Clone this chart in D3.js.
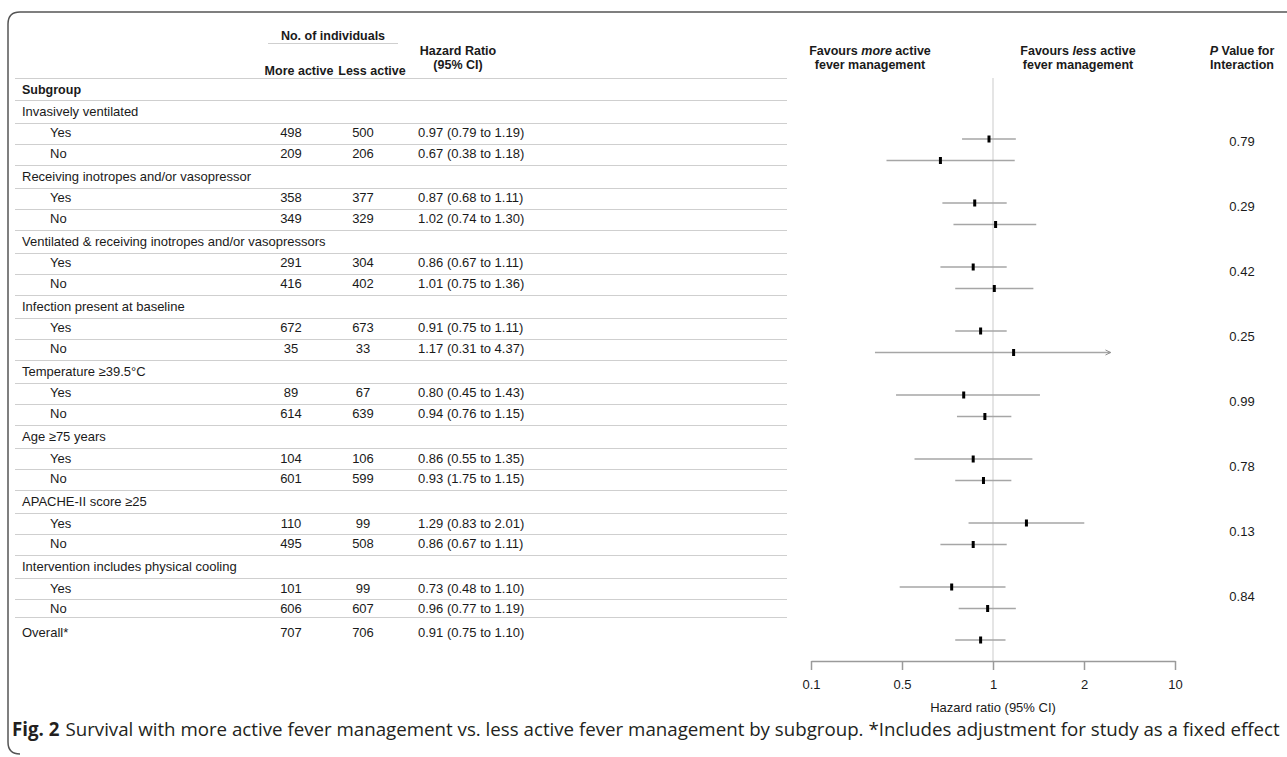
<!DOCTYPE html>
<html>
<head>
<meta charset="utf-8">
<script src="https://cdn.jsdelivr.net/npm/d3@7"></script>
<style>
  body { margin: 0; background: #fff; }
  svg { font-family: "Liberation Sans", Arial, sans-serif; }
  .tbl { font-size: 13px; fill: #1a1a1a; }
  .hdr { font-size: 12.5px; font-weight: bold; fill: #1a1a1a; }
  .rule { stroke: #cfcfcf; stroke-width: 1; }
  .ci { stroke: #a6a6a6; stroke-width: 1.6; fill: none; }
  .axis path, .axis line { stroke: #9a9a9a; stroke-width: 1.5; }
  .axis text { font-size: 13px; fill: #1a1a1a; font-family: "Liberation Sans", Arial, sans-serif; }
</style>
</head>
<body>
<script>
var width = 1287;
var height = 757;

// data
var groups = ["Invasively ventilated", "Receiving inotropes and/or vasopressor",
  "Ventilated & receiving inotropes and/or vasopressors", "Infection present at baseline",
  "Temperature \u226539.5\u00b0C", "Age \u226575 years", "APACHE-II score \u226525",
  "Intervention includes physical cooling"];
var levels = ["Yes", "No"];
var moreActive = [498, 209, 358, 349, 291, 416, 672, 35, 89, 614, 104, 601, 110, 495, 101, 606];
var lessActive = [500, 206, 377, 329, 304, 402, 673, 33, 67, 639, 106, 599, 99, 508, 99, 607];
var hr     = [0.97, 0.67, 0.87, 1.02, 0.86, 1.01, 0.91, 1.17, 0.80, 0.94, 0.86, 0.93, 1.29, 0.86, 0.73, 0.96];
var ciLow  = [0.79, 0.38, 0.68, 0.74, 0.67, 0.75, 0.75, 0.31, 0.45, 0.76, 0.55, 0.75, 0.83, 0.67, 0.48, 0.77];
var ciHigh = [1.19, 1.18, 1.11, 1.39, 1.11, 1.36, 1.11, 4.37, 1.43, 1.15, 1.35, 1.15, 2.01, 1.11, 1.10, 1.19];
var hrLabels = ["0.97 (0.79 to 1.19)", "0.67 (0.38 to 1.18)", "0.87 (0.68 to 1.11)", "1.02 (0.74 to 1.30)",
  "0.86 (0.67 to 1.11)", "1.01 (0.75 to 1.36)", "0.91 (0.75 to 1.11)", "1.17 (0.31 to 4.37)",
  "0.80 (0.45 to 1.43)", "0.94 (0.76 to 1.15)", "0.86 (0.55 to 1.35)", "0.93 (1.75 to 1.15)",
  "1.29 (0.83 to 2.01)", "0.86 (0.67 to 1.11)", "0.73 (0.48 to 1.10)", "0.96 (0.77 to 1.19)"];
var pValues = ["0.79", "0.29", "0.42", "0.25", "0.99", "0.78", "0.13", "0.84"];
var overall = {label: "Overall*", more: 707, less: 706, hr: 0.91, lo: 0.75, hi: 1.10, text: "0.91 (0.75 to 1.10)"};
var ticks = [0.1, 0.5, 1, 2, 10];
var clipMax = 3.2; // longer intervals get an arrow

var svg = d3.select("body").append("svg")
  .attr("width", width)
  .attr("height", height);

// frame
svg.append("path")
  .attr("d", "M" + width + ",12 H20 Q8,12 8,24 V742 Q8,754 20,754")
  .attr("fill", "none")
  .attr("stroke", "#555")
  .attr("stroke-width", 1.5);

// ---------- table ----------
var col = {label: 22, indent: 50, more: 291, less: 363, hr: 418};
var tableTop = d3.scaleLinear().domain([0, 8]).range([99, 619.8]);
var lineL = 15, lineR = 787;

var head = svg.append("g");
head.append("text").attr("class", "hdr").attr("x", 333).attr("y", 39.5)
  .attr("text-anchor", "middle").text("No. of individuals");
head.append("line").attr("class", "rule").attr("x1", 268).attr("x2", 398).attr("y1", 43.5).attr("y2", 43.5);
head.append("text").attr("class", "hdr").attr("x", 299).attr("y", 74.5)
  .attr("text-anchor", "middle").text("More active");
head.append("text").attr("class", "hdr").attr("x", 372).attr("y", 74.5)
  .attr("text-anchor", "middle").text("Less active");
head.append("text").attr("class", "hdr").attr("x", 458).attr("y", 55)
  .attr("text-anchor", "middle").text("Hazard Ratio");
head.append("text").attr("class", "hdr").attr("x", 458).attr("y", 69)
  .attr("text-anchor", "middle").text("(95% CI)");
head.append("text").attr("class", "hdr").attr("x", col.label).attr("y", 93.5).text("Subgroup");

var rules = [77.5, 99.5];
var tbl = svg.append("g");

groups.forEach(function(g, i){
  var top = tableTop(i);
  tbl.append("text").attr("class", "tbl").attr("x", col.label).attr("y", top + 16.5).text(g);
  rules.push(top + 23.5, top + 44.5, top + 65.5);
  levels.forEach(function(lv, j){
    var k = i * 2 + j;
    var y = top + 38 + j * 20.5;
    tbl.append("text").attr("class", "tbl").attr("x", col.indent).attr("y", y).text(lv);
    tbl.append("text").attr("class", "tbl").attr("x", col.more).attr("y", y)
      .attr("text-anchor", "middle").text(moreActive[k]);
    tbl.append("text").attr("class", "tbl").attr("x", col.less).attr("y", y)
      .attr("text-anchor", "middle").text(lessActive[k]);
    tbl.append("text").attr("class", "tbl").attr("x", col.hr).attr("y", y).text(hrLabels[k]);
  });
});
rules.pop();
rules.push(tableTop(8) - 3);

var oy = tableTop(8) + 17.5;
tbl.append("text").attr("class", "tbl").attr("x", col.label).attr("y", oy).text(overall.label);
tbl.append("text").attr("class", "tbl").attr("x", col.more).attr("y", oy).attr("text-anchor", "middle").text(overall.more);
tbl.append("text").attr("class", "tbl").attr("x", col.less).attr("y", oy).attr("text-anchor", "middle").text(overall.less);
tbl.append("text").attr("class", "tbl").attr("x", col.hr).attr("y", oy).text(overall.text);

svg.append("g").selectAll("line")
  .data(rules)
  .enter()
  .append("line")
  .attr("class", "rule")
  .attr("x1", lineL).attr("x2", lineR)
  .attr("y1", d => Math.round(d) + 0.5).attr("y2", d => Math.round(d) + 0.5);

// ---------- forest plot ----------
var x = d3.scaleLog()
  .domain(ticks)
  .range(ticks.map((d, i) => 811 + i * 91));

var plotY = d3.scaleLinear().domain([0, 7]).range([139, 587]);
var axisY = 661;

svg.append("line")
  .attr("x1", x(1)).attr("x2", x(1))
  .attr("y1", 78).attr("y2", axisY)
  .attr("stroke", "#d4d4d4").attr("stroke-width", 1.2);

svg.append("defs").append("marker")
  .attr("id", "arrow")
  .attr("viewBox", "0 0 10 10")
  .attr("refX", 9).attr("refY", 5)
  .attr("markerWidth", 4).attr("markerHeight", 4)
  .attr("orient", "auto")
  .append("path")
  .attr("d", "M1,1 L9,5 L1,9")
  .attr("fill", "none").attr("stroke", "#8a8a8a").attr("stroke-width", 1.5);

var rows = hr.map(function(d, k){
  return {hr: d, lo: ciLow[k], hi: ciHigh[k], y: plotY(Math.floor(k / 2)) + (k % 2) * 21.5};
});
rows.push({hr: overall.hr, lo: overall.lo, hi: overall.hi, y: plotY(7) + 53});

var forest = svg.append("g");
forest.selectAll("line.ci")
  .data(rows)
  .enter()
  .append("line")
  .attr("class", "ci")
  .attr("x1", d => x(d.lo))
  .attr("x2", d => x(Math.min(d.hi, clipMax)))
  .attr("y1", d => d.y).attr("y2", d => d.y)
  .attr("marker-end", d => d.hi > clipMax ? "url(#arrow)" : null);

forest.selectAll("rect")
  .data(rows)
  .enter()
  .append("rect")
  .attr("x", d => x(d.hr) - 1.5)
  .attr("y", d => d.y - 3.5)
  .attr("width", 3)
  .attr("height", 7)
  .attr("fill", "#000");

// p values sit level with the table groups
svg.append("g").selectAll("text")
  .data(pValues)
  .enter()
  .append("text")
  .attr("class", "tbl")
  .attr("x", 1242)
  .attr("y", (d, i) => tableTop(i) + 46.5)
  .attr("text-anchor", "middle")
  .text(d => d);

var axis = svg.append("g")
  .attr("class", "axis")
  .attr("transform", "translate(0," + axisY + ")")
  .call(d3.axisBottom(x).tickValues(ticks).tickFormat(d3.format("")).tickSize(9).tickSizeOuter(0).tickPadding(10));

svg.append("text").attr("class", "tbl").attr("font-size", "12.5px")
  .attr("x", x(1)).attr("y", 712).attr("text-anchor", "middle").text("Hazard ratio (95% CI)");

// favours / p headers
function twoLine(cx, first, second){
  var t = svg.append("text").attr("class", "hdr").attr("x", cx).attr("y", 55).attr("text-anchor", "middle");
  first.forEach(function(p){
    t.append("tspan").attr("font-style", p[1] ? "italic" : null).text(p[0]);
  });
  svg.append("text").attr("class", "hdr").attr("x", cx).attr("y", 69).attr("text-anchor", "middle").text(second);
}
twoLine(870, [["Favours ", 0], ["more", 1], [" active", 0]], "fever management");
twoLine(1078, [["Favours ", 0], ["less", 1], [" active", 0]], "fever management");
twoLine(1242, [["P", 1], [" Value for", 0]], "Interaction");

// caption
var cap = svg.append("text")
  .attr("x", 12).attr("y", 736)
  .attr("font-family", "'Open Sans', 'Noto Sans', sans-serif")
  .attr("font-size", "15px")
  .attr("fill", "#231f20");
cap.append("tspan").attr("font-weight", "bold").text("Fig. 2");
cap.append("tspan").attr("dx", 6).text("Survival with more active fever management vs. less active fever management by subgroup. *Includes adjustment for study as a fixed effect");
var capLen = cap.node().getComputedTextLength();
cap.attr("font-size", (15 * 1263 / capLen).toFixed(2) + "px");
</script>
</body>
</html>
